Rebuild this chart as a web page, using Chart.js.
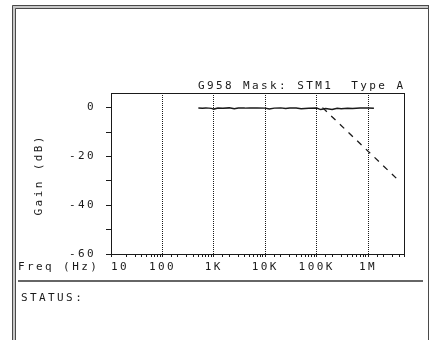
<!DOCTYPE html>
<html>
<head>
<meta charset="utf-8">
<script src="https://cdn.jsdelivr.net/npm/chart.js@4/dist/chart.umd.min.js"></script>
<style>
html,body{margin:0;padding:0;background:#fff;overflow:hidden;}
canvas{display:block;}
</style>
</head>
<body>
<canvas id="c" width="429" height="340"></canvas>
<script>
// ---- data ----
const traceFreq = [500, 600, 700, 800, 900, 1000, 1200, 1500, 2000, 2500, 3000, 4000, 5000, 7000, 10000, 12000, 15000, 20000, 25000, 30000, 40000, 50000, 70000, 100000, 120000, 150000, 200000, 250000, 300000, 400000, 500000, 700000, 1000000, 1300000];
const traceGain = [-0.1, -0.2, -0.1, -0.2, -0.3, -0.6, -0.2, -0.3, -0.1, -0.5, -0.2, -0.2, -0.1, -0.1, -0.2, -0.6, -0.2, -0.1, -0.4, -0.2, -0.2, -0.5, -0.3, -0.2, -0.8, -0.4, -0.8, -0.3, -0.5, -0.3, -0.4, -0.2, -0.1, -0.3];
const maskFreq = [130000, 4000000];
const maskGain = [0, -30];
const decadeLabels = {10: '10', 100: '100', 1000: '1K', 10000: '10K', 100000: '100K', 1000000: '1M'};
const yLabels = [0, -20, -40, -60];
const titleText = 'G958 Mask: STM1  Type A';
const xTitle = 'Freq (Hz)';
const yTitle = 'Gain (dB)';
const statusText = 'STATUS:';

const FONT = '"DejaVu Sans Mono", "Liberation Mono", monospace';
const FSIZE = 11;
const SP = 2.4;
const SPACING = SP + 'px';
const INK = '#1a1a1a';

function isDecade(v) {
  const l = Math.log10(v);
  return Math.abs(l - Math.round(l)) < 1e-9;
}

const frame = {
  id: 'frame',
  beforeUpdate(chart) { chart.ctx.letterSpacing = SPACING; },
  beforeLayout(chart) { chart.ctx.letterSpacing = SPACING; },
  beforeDraw(chart) {
    const ctx = chart.ctx;
    ctx.letterSpacing = SPACING;
    ctx.save();
    ctx.fillStyle = '#fff';
    ctx.fillRect(0, 0, 429, 340);
    // double frame
    ctx.fillStyle = '#c8c8c8';
    ctx.fillRect(12, 5, 417, 4);
    ctx.fillRect(12, 5, 4, 335);
    ctx.strokeStyle = '#4a4a4a';
    ctx.lineWidth = 1;
    ctx.beginPath();
    ctx.moveTo(12.5, 340); ctx.lineTo(12.5, 5.5); ctx.lineTo(429, 5.5);
    ctx.moveTo(15.5, 340); ctx.lineTo(15.5, 8.5); ctx.lineTo(429, 8.5);
    ctx.moveTo(428.5, 5); ctx.lineTo(428.5, 340);
    ctx.stroke();
    // separator
    ctx.strokeStyle = '#666';
    ctx.lineWidth = 2;
    ctx.beginPath();
    ctx.moveTo(18, 281); ctx.lineTo(423, 281);
    ctx.stroke();
    // texts
    ctx.fillStyle = INK;
    ctx.font = FSIZE + 'px ' + FONT;
    ctx.textBaseline = 'middle';
    ctx.textAlign = 'left';
    ctx.fillText(statusText, 21, 298);
    ctx.fillText(xTitle, 18, 267);
    ctx.textAlign = 'right';
    ctx.fillText(titleText, 403 + SP, 86);
    ctx.save();
    ctx.translate(39, 176);
    ctx.rotate(-Math.PI / 2);
    ctx.textAlign = 'center';
    ctx.fillText(yTitle, SP / 2, 0);
    ctx.restore();
    ctx.restore();
  },
  afterDatasetsDraw(chart) {
    const {ctx, chartArea: a} = chart;
    ctx.save();
    ctx.strokeStyle = INK;
    ctx.lineWidth = 1;
    ctx.strokeRect(Math.round(a.left) + 0.5, Math.round(a.top) + 0.5, Math.round(a.right - a.left), Math.round(a.bottom - a.top));
    ctx.restore();
  }
};

new Chart(document.getElementById('c'), {
  type: 'line',
  data: {
    datasets: [
      {
        data: traceFreq.map((f, i) => ({x: f, y: traceGain[i]})),
        borderColor: INK,
        borderWidth: 1.5,
        pointRadius: 0,
        tension: 0
      },
      {
        data: maskFreq.map((f, i) => ({x: f, y: maskGain[i]})),
        borderColor: INK,
        borderWidth: 1.3,
        borderDash: [6, 6],
        pointRadius: 0,
        tension: 0
      }
    ]
  },
  options: {
    responsive: false,
    animation: false,
    events: [],
    layout: {padding: {top: 93, right: 25, left: 0, bottom: 0}},
    plugins: {legend: {display: false}, tooltip: {enabled: false}, title: {display: false}},
    scales: {
      x: {
        type: 'logarithmic',
        min: 10,
        max: 5000000,
        afterFit(s) { s.height = 86; },
        border: {display: true, color: INK, width: 1, dash: [1, 1]},
        grid: {
          drawOnChartArea: true,
          drawTicks: true,
          color: c => (c.tick && isDecade(c.tick.value) && c.tick.value > 10 && c.tick.value < 5000000) ? INK : 'transparent',
          lineWidth: 1,
          tickLength: 3,
          tickWidth: 1,
          tickColor: INK,
          tickBorderDash: [10, 0]
        },
        ticks: {
          autoSkip: false,
          maxRotation: 0,
          minRotation: 0,
          align: 'inner',
          padding: 4,
          color: INK,
          font: {family: FONT, size: FSIZE},
          callback: v => decadeLabels[Math.round(v)] !== undefined && isDecade(v) ? decadeLabels[Math.round(v)] : ''
        }
      },
      y: {
        type: 'linear',
        min: -60,
        max: 6,
        afterFit(s) { s.width = 111; },
        border: {display: true, color: INK, width: 1},
        grid: {
          drawOnChartArea: false,
          tickLength: 5,
          tickColor: c => (c.tick && c.tick.value % 10 === 0) ? INK : 'transparent'
        },
        ticks: {
          stepSize: 10,
          autoSkip: false,
          padding: 10,
          color: INK,
          font: {family: FONT, size: FSIZE},
          callback: v => yLabels.includes(v) ? String(v) : ''
        }
      }
    }
  },
  plugins: [frame]
});
</script>
</body>
</html>
